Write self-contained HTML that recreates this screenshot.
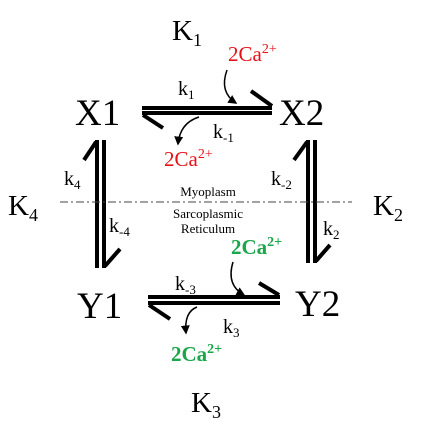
<!DOCTYPE html>
<html><head><meta charset="utf-8"><style>
html,body{margin:0;padding:0;background:#fff;}
svg{display:block;font-family:"Liberation Serif",serif;}
</style></head><body>
<svg width="421" height="438" viewBox="0 0 421 438">
<defs><marker id="ah" markerWidth="6" markerHeight="6" refX="5" refY="3" orient="auto"><path d="M0,0 L6,3 L0,6 z" fill="#000"/></marker></defs>
<g stroke="#000" stroke-width="4" fill="none" stroke-linecap="butt">
 <g>
  <line x1="142" y1="108" x2="272" y2="108"/><line x1="142" y1="113" x2="272" y2="113"/>
  <line x1="251" y1="91" x2="272" y2="106"/><line x1="143" y1="115" x2="163" y2="128"/>
 </g>
 <g>
  <line x1="148" y1="297" x2="280" y2="297"/><line x1="148" y1="303" x2="280" y2="303"/>
  <line x1="259" y1="283" x2="279" y2="295"/><line x1="149" y1="305" x2="170" y2="319"/>
 </g>
 <g>
  <line x1="97" y1="140" x2="97" y2="268"/><line x1="104" y1="140" x2="104" y2="268"/>
  <line x1="96" y1="142" x2="84" y2="160"/><line x1="105" y1="266" x2="120" y2="249"/>
 </g>
 <g>
  <line x1="308" y1="140" x2="308" y2="263"/><line x1="315" y1="140" x2="315" y2="263"/>
  <line x1="307" y1="142" x2="294" y2="160"/><line x1="316" y1="261" x2="330" y2="245"/>
 </g>
</g>
<g stroke="#000" stroke-width="1.5" fill="none" marker-end="url(#ah)">
 <path d="M227,70 Q219,92 236,103"/>
 <path d="M199,117 Q180,123 178,144"/>
 <path d="M233,262 Q226,285 244,295"/>
 <path d="M197,307 Q184,312 186,333"/>
</g>
<line x1="60" y1="202" x2="352" y2="202" stroke="#444" stroke-width="1" stroke-dasharray="8,3,2,3"/>
<g font-size="37" fill="#000">
 <text x="75" y="125">X1</text>
 <text x="279" y="125">X2</text>
 <text x="77" y="318">Y1</text>
 <text x="295" y="316">Y2</text>
</g>
<g font-size="29" fill="#000">
 <text x="172" y="40">K<tspan font-size="18" dy="6">1</tspan></text>
 <text x="373" y="215">K<tspan font-size="18" dy="6">2</tspan></text>
 <text x="191" y="412">K<tspan font-size="18" dy="6">3</tspan></text>
 <text x="8" y="215">K<tspan font-size="18" dy="6">4</tspan></text>
</g>
<g font-size="20" fill="#000">
 <text x="178" y="95">k<tspan font-size="13" dy="4">1</tspan></text>
 <text x="213" y="138">k<tspan font-size="13" dy="4">-1</tspan></text>
 <text x="64" y="185">k<tspan font-size="13" dy="4">4</tspan></text>
 <text x="109" y="232">k<tspan font-size="13" dy="4">-4</tspan></text>
 <text x="271" y="185">k<tspan font-size="13" dy="4">-2</tspan></text>
 <text x="323" y="235">k<tspan font-size="13" dy="4">2</tspan></text>
 <text x="175" y="290">k<tspan font-size="13" dy="4">-3</tspan></text>
 <text x="223" y="333">k<tspan font-size="13" dy="4">3</tspan></text>
</g>
<g font-size="13" fill="#000" text-anchor="middle">
 <text x="208" y="196">Myoplasm</text>
 <text x="208" y="218">Sarcoplasmic</text>
 <text x="208" y="233">Reticulum</text>
</g>
<g font-size="21">
 <text x="228" y="61" fill="#e8111a">2Ca<tspan font-size="14" dy="-8">2+</tspan></text>
 <text x="164" y="166" fill="#e8111a">2Ca<tspan font-size="14" dy="-8">2+</tspan></text>
 <text x="231" y="254" fill="#1aa64a" font-weight="bold">2Ca<tspan font-size="14" dy="-8">2+</tspan></text>
 <text x="171" y="361" fill="#1aa64a" font-weight="bold">2Ca<tspan font-size="14" dy="-8">2+</tspan></text>
</g>
</svg>
</body></html>
